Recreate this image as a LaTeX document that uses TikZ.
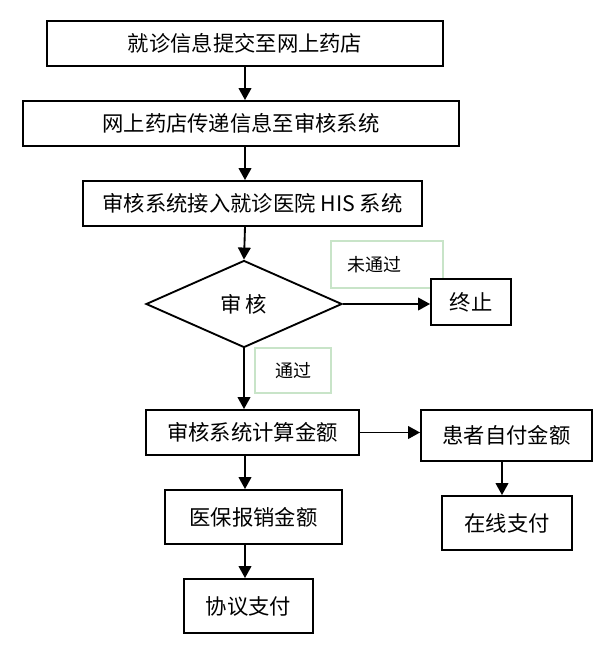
\documentclass[tikz,border=0pt]{standalone}
\usepackage{fontspec}
\setmainfont{Noto Sans CJK SC}
\usepackage{tikz}
\usetikzlibrary{shapes.geometric,arrows.meta}
\definecolor{palegreen}{RGB}{200,228,200}

\begin{document}
\begin{tikzpicture}[x=0.75pt, y=-0.75pt,
	box/.style={draw, line width=1.4pt, fill=white, font=\fontsize{16}{18}\selectfont, inner sep=0pt},
	greenbox/.style={draw=palegreen, line width=1.2pt, font=\fontsize{13.5}{15}\selectfont, inner sep=0pt},
	decision/.style={diamond, draw, line width=1.4pt, inner sep=0pt, font=\fontsize{16}{18}\selectfont},
	arr/.style={line width=1.4pt, -{Triangle[length=9pt, width=9.5pt]}}]
	\useasboundingbox (0,0) rectangle (606,647);

	% Main column
	\node (info) at (245,43.5) [box, minimum width=297pt, minimum height=33.75pt] {就诊信息提交至网上药店};
	\node (relay) at (241,123.5) [box, minimum width=327pt, minimum height=33.75pt] {网上药店传递信息至审核系统};
	\node (his) at (252.5,203.5) [box, minimum width=254.25pt, minimum height=33.75pt] {审核系统接入就诊医院 HIS 系统};
	\node (check) at (244,304) [decision, minimum width=147pt, minimum height=65.25pt] {审\,核};

	% Labels on the branches
	\node (fail) at (387,264.5) [greenbox, minimum width=84pt, minimum height=35.25pt, text width=60pt, inner xsep=12pt, align=left] {未通过};
	\node (pass) at (293,370.5) [greenbox, minimum width=57pt, minimum height=33.75pt] {通过};

	%Stop
	\node (stop) at (471,302) [box, minimum width=60pt, minimum height=34.5pt] {终止};

	% Amounts
	\node (calc) at (252.5,432.5) [box, minimum width=159.75pt, minimum height=33.75pt] {审核系统计算金额};
	\node (self) at (506.5,435.5) [box, minimum width=128.25pt, minimum height=38.25pt] {患者自付金额};
	\node (insur) at (253.5,517) [box, minimum width=132.75pt, minimum height=40.5pt] {医保报销金额};
	\node (online) at (507,523) [box, minimum width=97.5pt, minimum height=40.5pt] {在线支付};
	\node (agree) at (248.5,606) [box, minimum width=96.75pt, minimum height=40.5pt] {协议支付};

	% Arrows
	\coordinate (spine) at (245,0);
	\coordinate (spineb) at (502,0);
	\draw[arr] (info.south -| spine) -- (relay.north -| spine);
	\draw[arr] (relay.south -| spine) -- (his.north -| spine);
	\draw[arr] (his.south -| spine) -- (check.north);
	\draw[arr] (check.east) -- (check.east -| stop.west);
	\draw[arr] (check.south) -- (calc.north -| check.south);
	\draw[arr] (calc.east) -- (calc.east -| self.west);
	\draw[arr] (calc.south -| spine) -- (insur.north -| spine);
	\draw[arr] (insur.south -| spine) -- (agree.north -| spine);
	\draw[arr] (self.south -| spineb) -- (online.north -| spineb);

\end{tikzpicture}
\end{document}
